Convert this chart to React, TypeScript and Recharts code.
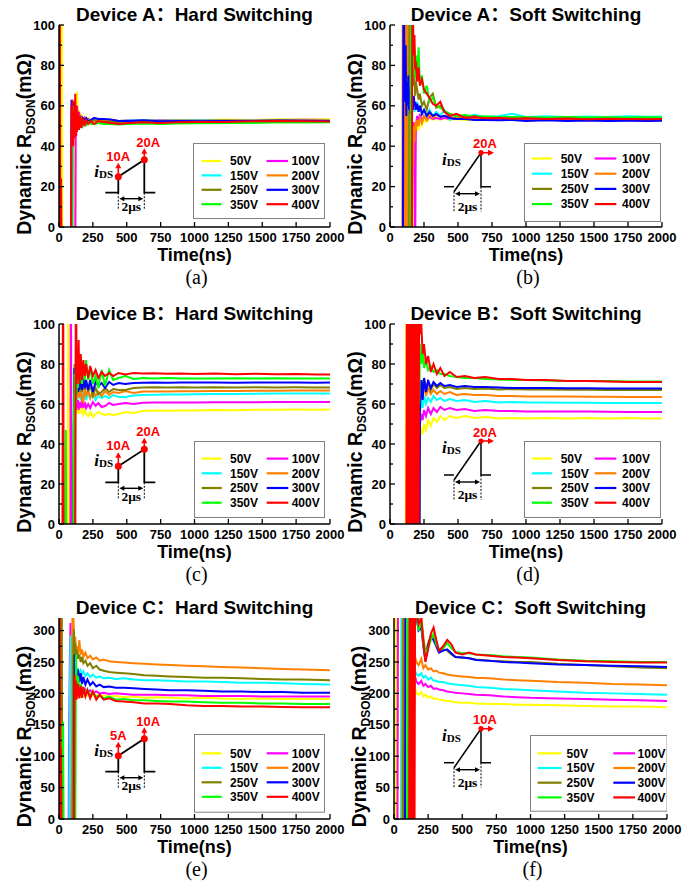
import React from "react";
import { LineChart, Line, XAxis, YAxis, Legend } from "recharts";

const SANS = '"Liberation Sans", Arial, "Noto Sans CJK SC", sans-serif';
const SERIF = '"Liberation Serif", "Times New Roman", serif';

const SERIES = ["50V", "100V", "150V", "200V", "250V", "300V", "350V", "400V"];
const COLORS = ["#FFFF00", "#FF00FF", "#00FFFF", "#FF8000", "#808000", "#0000FF", "#00FF00", "#FF0000"];

const X_TICKS = [0, 250, 500, 750, 1000, 1250, 1500, 1750, 2000];
const Y_TICKS_100 = [0, 10, 20, 30, 40, 50, 60, 70, 80, 90, 100];
const Y_LABELS_100 = [0, 20, 40, 60, 80, 100];
const Y_TICKS_320 = [0, 25, 50, 75, 100, 125, 150, 175, 200, 225, 250, 275, 300];
const Y_LABELS_320 = [0, 50, 100, 150, 200, 250, 300];

// ---------- Device A, hard switching ----------
const A_HARD_T = [0, 5, 10, 15, 20, 25, 30, 88, 92, 96, 100, 105, 110, 115, 120, 124, 128, 133, 140, 148, 156, 165, 175, 188, 200, 215, 235, 260, 290, 330, 380, 440, 520, 620, 740, 880, 1040, 1220, 1420, 1620, 1820, 2000];
const A_HARD_50V = [-20, -20, -20, -20, 150, -20, -20, -20, -20, -20, -20, -20, -20, -20, 50, 60, 55, 67, 55, 58, 52, 56, 51, 54, 52, 54, 53, 53.5, 53, 53.5, 53, 52.5, 52.8, 53, 52.8, 53, 53, 53.2, 53, 53.3, 53.2, 53.3];
const A_HARD_100V = [-20, -20, -20, -20, -20, -20, -20, -20, -20, -20, -20, -20, -20, -20, -20, 58, 45, 60, 50, 57, 51, 55, 52, 54, 52.5, 53.5, 52.5, 53, 52.5, 53, 52.8, 52.5, 52.8, 52.6, 52.8, 52.7, 52.9, 53, 52.8, 53, 53.1, 53];
const A_HARD_150V = [-20, -20, -20, -20, -20, -20, -20, -20, -20, -20, -20, 56, 48, 58, 50, 56, 51, 55, 52, 54, 52, 53.5, 52, 53.5, 52.5, 53, 53, 53.5, 52.8, 53, 52.7, 52.5, 52.7, 52.8, 52.6, 52.8, 52.9, 53, 52.8, 53, 52.9, 53];
const A_HARD_200V = [-20, -20, -20, -20, -20, -20, -20, -20, -20, -20, 57, 47, 60, 48, 57, 50, 56, 51, 55, 52, 54, 52, 53.5, 52, 53, 52, 53, 52.5, 53, 52.5, 52.8, 52.5, 52.3, 52.6, 52.5, 52.7, 52.6, 52.8, 52.7, 52.9, 52.8, 52.8];
const A_HARD_250V = [-20, -20, -20, -20, -20, -20, -20, -20, -20, 55, 50, 58, 49, 57, 51, 56, 52, 55, 51, 54, 52, 53.5, 51, 53, 51, 52, 52, 53, 52, 52.2, 52, 52, 52.2, 52, 52.2, 52.3, 52.4, 52.5, 52.5, 52.6, 52.5, 52.5];
const A_HARD_300V = [-20, -20, -20, -20, -20, -20, -20, -20, 63, 50, 58, 48, 62, 50, 58, 52, 56, 50, 55, 52, 55, 52, 54, 53, 54, 52.5, 53, 54, 53.5, 53.5, 53.2, 52.5, 52.5, 52.8, 52.3, 52.5, 52.3, 52.5, 52.5, 52.7, 52.6, 52.5];
const A_HARD_350V = [-20, -20, -20, -20, -20, -20, -20, -20, -20, 58, 48, 60, 47, 58, 50, 56, 49, 55, 50, 54, 51, 53, 50, 52, 50.5, 52, 51, 51, 51.5, 51, 51, 50.8, 51, 51.2, 51, 51.2, 51.3, 51.5, 51.5, 51.8, 51.7, 51.8];
const A_HARD_400V = [-20, 150, -20, 24, -20, -20, -20, -20, 60, 42, 63, 40, 57, 44, 66, 45, 60, 47, 57, 48, 55, 49, 54, 50, 53, 51, 52.5, 51, 52.5, 52, 51.5, 51, 51.5, 51.8, 51.5, 51.8, 52, 52, 52.3, 52.5, 52.4, 52.2];

// ---------- Device A, soft switching ----------
const A_SOFT_T = [0, 90, 95, 100, 105, 110, 115, 120, 125, 130, 135, 140, 145, 150, 155, 160, 165, 170, 175, 180, 185, 190, 200, 210, 220, 235, 250, 270, 290, 315, 340, 370, 400, 440, 490, 550, 620, 700, 800, 900, 1000, 1150, 1300, 1450, 1600, 1750, 1900, 2000];
const A_SOFT_50V = [-20, -20, -20, -20, -20, -20, -20, -20, -20, -20, -20, -20, -20, -20, 40, -20, 30, -20, 35, -20, 42, 45, 50, 48, 52, 50, 53, 52, 54, 53, 54, 53, 54, 53, 53.5, 53, 53.2, 53.5, 53, 53.3, 52.8, 53.2, 53, 53.2, 53.3, 53.2, 53.4, 53.3];
const A_SOFT_100V = [-20, -20, -20, -20, -20, -20, -20, -20, -20, -20, -20, -20, -20, -20, -20, -20, 45, 40, 52, 44, -20, 50, 55, 51, 56, 52, 55, 53, 54.5, 53.5, 54, 53.5, 54, 53.5, 53.5, 53.8, 53.5, 53.6, 53.4, 53.6, 53.5, 53.5, 53.4, 53.6, 53.5, 53.5, 53.4, 53.5];
const A_SOFT_150V = [-20, -20, -20, -20, -20, -20, -20, -20, -20, -20, 150, 70, 62, 58, 63, 56, 62, 58, 61, 57, 60, 58, 62, 57, 60, 56, 58, 55, 58, 55, 57, 55, 58, 53, 55, 54.5, 55.5, 54.5, 55, 56, 54.5, 54.8, 54.5, 54.7, 54.5, 54.8, 54.6, 54.7];
const A_SOFT_200V = [-20, -20, 150, -20, 150, -20, 150, -20, 150, -20, 150, -20, 150, 5, 35, 20, 45, 30, 50, 42, 52, 48, 53, 50, 54, 52, 55, 53, 56, 54, 55.5, 54.5, 55, 54.5, 54, 54.3, 54, 53.8, 54, 53.5, 53.8, 53.7, 53.8, 53.6, 53.8, 53.6, 53.7, 53.6];
const A_SOFT_250V = [-20, -20, -20, -20, -20, -20, -20, -20, -20, -20, -20, -20, 150, 100, 85, 95, 75, 82, 70, 75, 65, 72, 68, 63, 66, 60, 62, 58, 64, 66, 59, 60, 57, 56, 55, 54.5, 55, 54, 54.5, 54, 54.2, 54, 54.2, 54, 54.1, 54, 54.1, 54];
const A_SOFT_300V = [-20, -20, -20, 150, 80, 62, 90, 55, 72, 60, 75, 58, 68, 56, 66, 60, 64, 58, 65, 60, 62, 58, 61, 57, 60, 56, 58, 55, 57, 55, 56, 54.5, 55, 54, 53.5, 53.5, 53, 53, 52.8, 53, 52.5, 52.8, 52.5, 52.7, 52.5, 52.6, 52.5, 52.6];
const A_SOFT_350V = [-20, -20, -20, -20, -20, -20, -20, -20, -20, -20, -20, -20, -20, -20, 150, 100, 80, 95, 78, 88, 74, 85, 72, 89, 70, 75, 66, 70, 62, 64, 60, 59, 57.5, 56, 55, 55.5, 54.5, 54.8, 54.3, 54.5, 54.3, 54.2, 54.4, 54.2, 54.3, 54.2, 54.3, 54.2];
const A_SOFT_400V = [-20, -20, -20, -20, -20, -20, -20, -20, -20, -20, -20, -20, -20, -20, -20, -20, 150, 100, 85, 95, 78, 82, 72, 79, 70, 73, 68, 66, 64, 61, 60, 62, 57, 55, 56, 54, 54.5, 53.8, 54, 53.6, 53.8, 53.5, 53.7, 53.4, 53.6, 53.5, 53.4, 53.5];

// ---------- Device B, hard switching ----------
const B_HARD_T = [0, 25, 30, 35, 45, 50, 55, 64, 69, 74, 84, 88, 92, 100, 105, 110, 115, 120, 125, 130, 135, 140, 145, 150, 160, 170, 180, 190, 200, 215, 230, 250, 270, 290, 315, 340, 370, 400, 440, 490, 550, 620, 700, 800, 900, 1000, 1150, 1300, 1450, 1600, 1750, 1900, 2000];
const B_HARD_50V = [-20, -20, -20, -20, -20, -20, -20, -20, 150, -20, -20, -20, -20, -20, -20, -20, 52, 58, 55, 60, 56, 58, 55, 57, 56, 58, 55, 57, 55, 54, 56, 53.5, 55, 56, 55, 54.5, 55, 54.5, 55, 56, 55.5, 56.5, 56.7, 56.6, 56.8, 56.8, 57, 56.9, 57.1, 57.1, 57.2, 57.1, 57.3];
const B_HARD_100V = [-20, -20, -20, -20, -20, -20, -20, -20, -20, -20, -20, 150, -20, -20, -20, -20, 55, 62, 57, 63, 58, 62, 57, 61, 58, 62, 58, 61, 58, 60, 58, 61, 59, 60.5, 58.5, 59, 60.5, 59.5, 60, 60.5, 60, 60.6, 60.7, 60.7, 60.8, 60.8, 60.9, 60.9, 60.9, 61, 61, 61, 61];
const B_HARD_150V = [-20, -20, -20, -20, -20, -20, -20, -20, -20, -20, -20, -20, -20, -20, -20, 78, 55, 72, 60, 70, 62, 68, 63, 67, 62, 67, 63, 66, 62, 65, 63, 65, 62, 64, 63, 64, 63, 64.5, 63.5, 63.5, 64.2, 64.5, 64.6, 64.7, 64.8, 64.9, 65, 65, 65.1, 65.2, 65.2, 65.3, 65.3];
const B_HARD_200V = [-20, -20, -20, -20, -20, -20, -20, -20, -20, -20, -20, -20, -20, -20, -20, 55, 72, 58, 75, 62, 72, 64, 70, 63, 69, 62, 61, 68, 64, 67, 63, 67, 64, 66, 64, 66.5, 64.5, 66, 65.5, 66.5, 65.5, 66.2, 66.3, 66.3, 66.4, 66.4, 66.5, 66.5, 66.6, 66.6, 66.7, 66.7, 66.7];
const B_HARD_250V = [-20, -20, -20, -20, -20, -20, -20, -20, -20, -20, -20, -20, -20, -20, -20, 62, 80, 64, 78, 66, 76, 67, 74, 66, 73, 66, 72, 67, 71, 66, 70, 64, 68, 65, 66, 68, 66, 67.5, 67, 67, 68, 68.2, 68.4, 68.2, 68.4, 68.3, 68.4, 68.2, 68.4, 68.3, 68.4, 68.3, 68.3];
const B_HARD_300V = [-20, -20, -20, -20, -20, -20, -20, -20, -20, -20, -20, -20, -20, -20, -20, 50, 78, 62, 80, 65, 77, 66, 75, 67, 74, 67, 73, 68, 72, 67, 72, 66, 71, 69, 70.5, 68, 71, 69.5, 70.5, 70, 70.5, 70.6, 70.8, 70.6, 70.8, 70.7, 70.8, 70.6, 70.8, 70.7, 70.7, 70.6, 70.7];
const B_HARD_350V = [-20, -20, -20, -20, -20, 47, -20, -20, -20, -20, -20, -20, -20, -20, -20, 48, 75, 60, 88, 65, 82, 68, 80, 70, 84, 70, 80, 72, 82, 72, 78, 70, 74, 68, 77, 69, 77, 72, 73, 74, 72.5, 73, 72.7, 73, 72.7, 72.8, 72.7, 72.9, 72.7, 72.9, 72.7, 72.8, 72.8];
const B_HARD_400V = [-20, -20, 150, -20, -20, -20, -20, -20, -20, -20, -20, -20, -20, -20, -20, -20, -20, -20, 150, 70, 85, 72, 92, 70, 85, 72, 82, 74, 80, 73, 79, 74, 77, 73, 76, 74, 75.5, 74, 75.5, 74.8, 75.5, 75.2, 75.4, 75.1, 75.3, 75, 75.2, 74.9, 75.1, 74.9, 75, 74.8, 74.8];

// ---------- Device B, soft switching ----------
const B_SOFT_T = [0, 115, 120, 125, 130, 135, 140, 145, 150, 155, 160, 165, 170, 175, 180, 185, 190, 195, 200, 205, 210, 215, 220, 230, 240, 250, 265, 280, 300, 320, 345, 370, 400, 440, 490, 550, 620, 700, 800, 900, 1000, 1150, 1300, 1450, 1600, 1750, 1900, 2000];
const B_SOFT_50V = [-20, -20, 150, -20, -20, -20, -20, -20, -20, -20, -20, -20, -20, -20, -20, -20, -20, -20, -20, -20, -20, -20, 42, 48, 45, 50, 47, 52, 49, 53, 51, 54, 52, 54, 53, 54, 53, 53.5, 52.8, 53, 52.8, 53, 52.8, 53, 52.8, 53, 52.8, 52.8];
const B_SOFT_100V = [-20, -20, -20, -20, -20, -20, -20, -20, -20, -20, -20, -20, -20, -20, -20, -20, -20, -20, -20, -20, -20, -20, 50, 55, 52, 57, 54, 58, 55, 58, 56, 58.5, 57, 58, 57, 57.5, 56.5, 57, 56.5, 56.5, 56.3, 56.3, 56.2, 56.2, 56.1, 56, 56, 56];
const B_SOFT_150V = [-20, -20, -20, -20, -20, -20, -20, -20, -20, -20, -20, -20, -20, -20, -20, -20, -20, -20, -20, -20, -20, -20, 55, 62, 58, 64, 60, 63, 61, 64, 62, 63, 61.5, 62.5, 61.5, 62, 61, 61.5, 60.8, 61, 60.7, 60.7, 60.6, 60.6, 60.5, 60.5, 60.5, 60.5];
const B_SOFT_200V = [-20, -20, -20, -20, -20, -20, -20, -20, -20, -20, -20, -20, -20, -20, -20, -20, -20, -20, -20, -20, -20, -20, 60, 68, 63, 70, 64, 68, 65, 67, 65, 66.5, 65, 66, 64.5, 65, 64.5, 64.5, 64, 64, 63.8, 63.8, 63.7, 63.6, 63.6, 63.5, 63.5, 63.5];
const B_SOFT_250V = [-20, -20, -20, -20, -20, -20, -20, -20, -20, -20, -20, -20, -20, -20, -20, -20, -20, -20, -20, -20, -20, -20, 65, 72, 66, 73, 67, 71, 67, 70, 68, 69.5, 68, 68.5, 67.5, 68, 67.5, 67.8, 67.3, 67.5, 67.2, 67.2, 67.1, 67.1, 67, 67, 67, 67];
const B_SOFT_300V = [-20, -20, -20, -20, -20, -20, -20, -20, -20, -20, -20, -20, -20, -20, -20, -20, -20, -20, -20, -20, -20, -20, 58, 72, 62, 73, 66, 72, 68, 71, 69, 70.5, 69, 69.5, 68.5, 69, 68.5, 68.5, 68.2, 68, 68, 68, 67.9, 67.9, 67.8, 67.8, 67.8, 67.8];
const B_SOFT_350V = [-20, -20, -20, -20, -20, -20, -20, -20, -20, -20, -20, -20, -20, -20, -20, -20, -20, -20, 150, 42, 100, 60, 90, 80, 88, 78, 82, 77, 79, 76, 77, 75, 75, 74, 73.5, 73, 73, 72.5, 72.3, 72, 72, 71.8, 71.5, 71.5, 71.5, 71.3, 71.3, 71.3];
const B_SOFT_400V = [-20, -20, -20, 150, -20, 150, -20, 150, -20, 150, -20, 150, -20, 150, -20, 150, -20, 150, -20, 150, -20, 150, 95, 100, 85, 90, 80, 84, 76, 80, 75, 78, 74, 76, 73.5, 74, 73, 73.5, 72.5, 72.5, 72, 72, 71.5, 71.5, 71.2, 71, 71, 71];

// ---------- Device C, hard switching ----------
const C_HARD_T = [0, 5, 10, 15, 20, 25, 30, 35, 65, 70, 75, 80, 85, 90, 95, 100, 105, 110, 115, 120, 125, 130, 140, 150, 160, 170, 180, 195, 210, 230, 250, 275, 300, 330, 370, 420, 480, 550, 630, 720, 820, 940, 1070, 1200, 1350, 1500, 1650, 1800, 2000];
const C_HARD_50V = [-50, -50, 400, -50, -50, -50, -50, -50, -50, -50, -50, -50, -50, -50, -50, -50, -50, -50, 185, 205, 190, 205, 193, 203, 195, 200, 196, 200, 196, 199, 196, 198, 195, 197, 195, 196, 194, 195, 193, 194, 193, 192, 193, 192, 191, 192, 191, 191, 191];
const C_HARD_100V = [-50, -50, -50, -50, -50, -50, -50, -50, -50, -50, 150, 250, 312, -50, -50, -50, -50, 220, 205, 215, 205, 212, 203, 210, 203, 208, 202, 206, 201, 205, 200, 203, 200, 201, 199, 200, 199, 198, 198, 198, 197, 197, 196, 196, 196, 195, 195, 195, 195];
const C_HARD_150V = [-50, -50, -50, -50, -50, -50, -50, -50, -50, -50, -50, 200, 292, 150, -50, -50, 260, 240, 250, 232, 245, 230, 240, 228, 236, 230, 235, 228, 232, 226, 230, 225, 227, 224, 225, 223, 224, 222, 221, 221, 220, 219, 219, 218, 217, 217, 216, 215, 214];
const C_HARD_200V = [-50, -50, -50, -50, -50, -50, -50, -50, -50, -50, -50, -50, -50, -50, -50, 400, 330, 300, 270, 290, 262, 275, 262, 285, 262, 270, 258, 265, 256, 260, 254, 257, 252, 254, 251, 250, 249, 248, 247, 246, 245, 244, 243, 242, 241, 240, 239, 238, 237];
const C_HARD_250V = [-50, -50, -50, -50, 400, -50, -50, -50, -50, -50, -50, -50, -50, -50, -50, -50, 250, 302, 260, 280, 255, 270, 255, 262, 250, 258, 248, 252, 244, 248, 240, 244, 238, 236, 234, 233, 232, 231, 229, 228, 227, 226, 225, 225, 224, 223, 222, 222, 221];
const C_HARD_300V = [-50, -50, -50, -50, -50, -50, -50, -50, -50, -50, -50, -50, -50, -50, -50, -50, -50, -50, 262, 225, 245, 215, 238, 218, 232, 215, 226, 214, 222, 213, 218, 211, 214, 210, 211, 209, 209, 208, 207, 206, 205, 205, 204, 203, 203, 202, 202, 201, 201];
const C_HARD_350V = [-50, -50, -50, -50, -50, -50, 155, -50, -50, -50, -50, -50, -50, -50, -50, -50, -50, -50, -50, -50, 262, 215, 228, 205, 215, 200, 210, 198, 206, 196, 202, 194, 197, 192, 195, 190, 191, 189, 189, 188, 187, 187, 186, 185, 185, 184, 184, 183, 183];
const C_HARD_400V = [-50, 400, -50, 113, -50, -50, -50, -50, -50, -50, -50, -50, -50, -50, -50, -50, -50, -50, 230, 195, 220, 190, 215, 192, 212, 193, 210, 195, 205, 192, 203, 190, 198, 190, 192, 188, 187, 186, 184, 184, 183, 181, 180, 180, 179, 179, 178.5, 178, 178];

// ---------- Device C, soft switching ----------
const C_SOFT_T = [0, 5, 10, 15, 20, 25, 30, 35, 50, 55, 60, 65, 70, 75, 80, 85, 90, 95, 100, 105, 110, 115, 120, 125, 130, 135, 140, 145, 150, 155, 165, 180, 200, 215, 230, 250, 270, 290, 310, 330, 360, 390, 420, 450, 500, 550, 600, 700, 800, 900, 1000, 1200, 1400, 1600, 1800, 2000];
const C_SOFT_50V = [-50, -50, 400, -50, 400, 400, 400, 400, 400, 400, 400, 400, 400, 400, 400, 400, 400, 400, 400, 400, 400, 400, 400, 400, 400, 400, 400, 400, 212, 208, 200, 198, 202, 195, 198, 193, 195, 191, 192, 190, 189, 188, 187, 186, 185, 185, 184, 183, 183, 182, 182, 181, 180, 179, 179, 178];
const C_SOFT_100V = [-50, -50, -50, -50, -50, -50, 400, 400, 400, 400, 400, 400, 400, 400, 400, 400, 400, 400, 400, 400, 400, 400, 400, 400, 400, 400, 400, 400, 232, 226, 218, 215, 220, 212, 215, 210, 212, 207, 208, 206, 205, 203, 202, 201, 200, 199, 198, 197, 195, 194, 193, 192, 191, 190, 189, 188];
const C_SOFT_150V = [-50, -50, -50, -50, -50, -50, -50, -50, -50, 400, 400, 400, 400, 400, 400, 400, 400, 400, 400, 400, 400, 400, 400, 400, 400, 400, 400, 400, 240, 236, 230, 228, 232, 225, 228, 222, 225, 220, 220, 218, 218, 216, 215, 214, 213, 212, 210, 209, 207, 206, 205, 203, 201, 200, 199, 198];
const C_SOFT_200V = [-50, -50, -50, -50, -50, -50, -50, -50, -50, -50, -50, 400, -50, 400, 400, 400, 400, 400, 400, 400, 400, 400, 400, 400, 400, 400, 400, 400, 268, 258, 250, 245, 255, 240, 245, 238, 240, 235, 236, 233, 232, 230, 229, 228, 227, 226, 225, 224, 222, 221, 220, 218, 217, 215, 214, 213];
const C_SOFT_250V = [-50, -50, -50, -50, -50, -50, -50, -50, -50, -50, -50, -50, 400, 400, 400, 400, 400, 400, 400, 400, 400, 400, 400, 400, 400, 400, 400, 400, 400, 400, 330, 315, 320, 290, 262, 280, 292, 288, 278, 268, 270, 268, 262, 258, 257, 256, 254, 252, 251, 250, 250, 247, 245, 243, 241, 240];
const C_SOFT_300V = [-50, -50, -50, -50, -50, -50, -50, -50, -50, -50, -50, -50, -50, -50, -50, 400, 400, 400, 400, 400, 400, 400, 400, 400, 400, 400, 400, 400, 400, 400, 320, 300, 305, 275, 252, 275, 290, 285, 275, 265, 268, 270, 264, 258, 257, 256, 253, 252, 250, 249, 248, 246, 245, 244, 243, 242];
const C_SOFT_350V = [-50, -50, -50, -50, -50, -50, -50, -50, -50, -50, -50, -50, -50, -50, -50, -50, -50, -50, 400, -50, 400, 400, 400, 400, 400, 400, 400, 400, 400, 320, 330, 300, 315, 275, 265, 272, 285, 295, 278, 270, 272, 280, 272, 266, 264, 264, 262, 261, 259, 258, 257, 254, 252, 251, 250, 250];
const C_SOFT_400V = [-50, -50, -50, -50, -50, -50, -50, -50, -50, -50, -50, -50, -50, -50, -50, -50, -50, -50, -50, -50, -50, 400, -50, 400, -50, 400, -50, 400, -50, 400, 330, 310, 320, 280, 250, 270, 295, 305, 285, 268, 275, 285, 278, 265, 262, 265, 262, 260, 258, 257, 256, 253, 251, 250, 249, 249];

function buildRows(t: number[], series: number[][]) {
  return t.map((time, i) => {
    const row: any = { t: time };
    series.forEach((arr, k) => {
      row["s" + k] = arr[i];
    });
    return row;
  });
}

const XTick = (props: any) => {
  const { x, y, payload } = props;
  return (
    <g>
      <line x1={x} x2={x} y1={y} y2={y - 5} stroke="#000" strokeWidth={1.3} />
      <text x={x} y={y + 15} textAnchor="middle" fontSize={13} fontWeight="bold" fontFamily={SANS} fill="#000">
        {payload.value}
      </text>
    </g>
  );
};

const makeYTick = (labels: number[]) => (props: any) => {
  const { x, y, payload } = props;
  const major = labels.indexOf(payload.value) >= 0;
  return (
    <g>
      <line x1={x} x2={x + (major ? 5 : 3)} y1={y} y2={y} stroke="#000" strokeWidth={1.3} />
      {major ? (
        <text x={x - 4} y={y + 4.6} textAnchor="end" fontSize={13} fontWeight="bold" fontFamily={SANS} fill="#000">
          {payload.value}
        </text>
      ) : null}
    </g>
  );
};

function LegendBox({ lg }: any) {
  return (
    <svg width={lg.w} height={lg.h} style={{ display: "block" }}>
      <rect x={0.5} y={0.5} width={lg.w - 1} height={lg.h - 1} fill="#fff" stroke="#808080" strokeWidth={1} />
      {SERIES.map((s, k) => {
        const col = k % 2;
        const row = Math.floor(k / 2);
        const yy = lg.row0 + row * lg.gap;
        const c = col === 0 ? lg.c1 : lg.c2;
        return (
          <g key={s}>
            <line x1={c[0]} x2={c[1]} y1={yy} y2={yy} stroke={COLORS[k]} strokeWidth={2.2} />
            <text x={c[2]} y={yy + 4.3} fontSize={12} fontWeight="bold" fontFamily={SANS} fill="#000">
              {s}
            </text>
          </g>
        );
      })}
    </svg>
  );
}

function HardInset({ x0, y0, lo, hi }: any) {
  return (
    <g>
      <polyline
        points={`${x0 - 13},${y0} ${x0},${y0} ${x0},${y0 - 16} ${x0 + 26},${y0 - 33} ${x0 + 26},${y0} ${x0 + 37},${y0}`}
        fill="none"
        stroke="#000"
        strokeWidth={1.8}
      />
      <circle cx={x0} cy={y0 - 16} r={3.5} fill="#FF0000" />
      <circle cx={x0 + 26} cy={y0 - 33} r={3.5} fill="#FF0000" />
      <line x1={x0} y1={y0 - 19} x2={x0} y2={y0 - 25} stroke="#FF0000" strokeWidth={1.6} />
      <polygon points={`${x0 - 3},${y0 - 24.5} ${x0 + 3},${y0 - 24.5} ${x0},${y0 - 30}`} fill="#FF0000" />
      <line x1={x0 + 26} y1={y0 - 36} x2={x0 + 26} y2={y0 - 40} stroke="#FF0000" strokeWidth={1.6} />
      <polygon points={`${x0 + 23},${y0 - 39} ${x0 + 29},${y0 - 39} ${x0 + 26},${y0 - 44.5}`} fill="#FF0000" />
      <text x={x0} y={y0 - 32} textAnchor="middle" fontSize={13} fontWeight="bold" fontFamily={SANS} fill="#FF0000">
        {lo}
      </text>
      <text x={x0 + 30} y={y0 - 46} textAnchor="middle" fontSize={13} fontWeight="bold" fontFamily={SANS} fill="#FF0000">
        {hi}
      </text>
      <text x={x0 - 24} y={y0 - 16} fontFamily={SERIF} fontWeight="bold" fill="#000">
        <tspan fontStyle="italic" fontSize={17}>i</tspan>
        <tspan fontSize={11} dy={1}>DS</tspan>
      </text>
      <line x1={x0} y1={y0} x2={x0} y2={y0 + 17} stroke="#000" strokeWidth={1} strokeDasharray="2 1.5" />
      <line x1={x0 + 26} y1={y0} x2={x0 + 26} y2={y0 + 17} stroke="#000" strokeWidth={1} strokeDasharray="2 1.5" />
      <line x1={x0 + 4} y1={y0 + 6} x2={x0 + 22} y2={y0 + 6} stroke="#000" strokeWidth={1.4} />
      <polygon points={`${x0 + 1},${y0 + 6} ${x0 + 6},${y0 + 3.5} ${x0 + 6},${y0 + 8.5}`} fill="#000" />
      <polygon points={`${x0 + 25},${y0 + 6} ${x0 + 20},${y0 + 3.5} ${x0 + 20},${y0 + 8.5}`} fill="#000" />
      <text x={x0 + 13} y={y0 + 18.5} textAnchor="middle" fontSize={13.5} fontWeight="bold" fontFamily={SERIF} fill="#000">
        2μs
      </text>
    </g>
  );
}

function SoftInset({ x0, y0, hi }: any) {
  return (
    <g>
      <line x1={x0 - 10} y1={y0} x2={x0} y2={y0} stroke="#000" strokeWidth={1.5} />
      <polyline
        points={`${x0},${y0 + 5} ${x0 + 27},${y0 - 34} ${x0 + 27},${y0} ${x0 + 37},${y0}`}
        fill="none"
        stroke="#000"
        strokeWidth={1.5}
      />
      <circle cx={x0 + 27} cy={y0 - 34} r={2.6} fill="#FF0000" />
      <line x1={x0 + 29} y1={y0 - 34} x2={x0 + 35} y2={y0 - 34} stroke="#FF0000" strokeWidth={1.6} />
      <polygon points={`${x0 + 34},${y0 - 37} ${x0 + 34},${y0 - 31} ${x0 + 40},${y0 - 34}`} fill="#FF0000" />
      <text x={x0 + 31} y={y0 - 38.5} textAnchor="middle" fontSize={13} fontWeight="bold" fontFamily={SANS} fill="#FF0000">
        {hi}
      </text>
      <text x={x0 - 12} y={y0 - 21.7} fontFamily={SERIF} fontWeight="bold" fill="#000">
        <tspan fontStyle="italic" fontSize={17}>i</tspan>
        <tspan fontSize={11} dy={1}>DS</tspan>
      </text>
      <line x1={x0} y1={y0 + 5} x2={x0} y2={y0 + 25} stroke="#000" strokeWidth={1} strokeDasharray="2 1.5" />
      <line x1={x0 + 27} y1={y0} x2={x0 + 27} y2={y0 + 25} stroke="#000" strokeWidth={1} strokeDasharray="2 1.5" />
      <line x1={x0 + 4} y1={y0 + 7} x2={x0 + 23} y2={y0 + 7} stroke="#000" strokeWidth={1.4} />
      <polygon points={`${x0 + 1},${y0 + 7} ${x0 + 6},${y0 + 4.5} ${x0 + 6},${y0 + 9.5}`} fill="#000" />
      <polygon points={`${x0 + 26},${y0 + 7} ${x0 + 21},${y0 + 4.5} ${x0 + 21},${y0 + 9.5}`} fill="#000" />
      <text x={x0 + 13.5} y={y0 + 24} textAnchor="middle" fontSize={13.5} fontWeight="bold" fontFamily={SERIF} fill="#000">
        2μs
      </text>
    </g>
  );
}

const PANELS = [
  {
    id: "a", left: 0, top: 0, W: 345, H: 295, L: 59, R: 330, T: 25, B: 227,
    title: "Device A：Hard Switching", letter: "(a)",
    rows: buildRows(A_HARD_T, [A_HARD_50V, A_HARD_100V, A_HARD_150V, A_HARD_200V, A_HARD_250V, A_HARD_300V, A_HARD_350V, A_HARD_400V]),
    yMax: 100, yTicks: Y_TICKS_100, yLabels: Y_LABELS_100,
    legend: { x: 193, y: 143, w: 132, h: 76, row0: 18, gap: 14.4, c1: [8.5, 28.5, 37], c2: [73.5, 95, 98.5] },
    inset: { kind: "hard", x0: 118.3, y0: 192.7, lo: "10A", hi: "20A" },
  },
  {
    id: "b", left: 345, top: 0, W: 352, H: 295, L: 45, R: 317, T: 25, B: 227,
    title: "Device A：Soft Switching", letter: "(b)",
    rows: buildRows(A_SOFT_T, [A_SOFT_50V, A_SOFT_100V, A_SOFT_150V, A_SOFT_200V, A_SOFT_250V, A_SOFT_300V, A_SOFT_350V, A_SOFT_400V]),
    yMax: 100, yTicks: Y_TICKS_100, yLabels: Y_LABELS_100,
    legend: { x: 179, y: 143, w: 137, h: 79, row0: 15.5, gap: 15.2, c1: [8, 28, 36.7], c2: [70.7, 92.3, 98] },
    inset: { kind: "soft", x0: 109, y0: 186.7, hi: "20A" },
  },
  {
    id: "c", left: 0, top: 295, W: 345, H: 295, L: 59, R: 330, T: 29, B: 229,
    title: "Device B：Hard Switching", letter: "(c)",
    rows: buildRows(B_HARD_T, [B_HARD_50V, B_HARD_100V, B_HARD_150V, B_HARD_200V, B_HARD_250V, B_HARD_300V, B_HARD_350V, B_HARD_400V]),
    yMax: 100, yTicks: Y_TICKS_100, yLabels: Y_LABELS_100,
    legend: { x: 194, y: 145.7, w: 131, h: 77, row0: 17.6, gap: 14.7, c1: [7.7, 27.7, 36], c2: [72.7, 94.3, 97.7] },
    inset: { kind: "hard", x0: 118.3, y0: 187.3, lo: "10A", hi: "20A" },
  },
  {
    id: "d", left: 345, top: 295, W: 352, H: 295, L: 45, R: 317, T: 29, B: 229,
    title: "Device B：Soft Switching", letter: "(d)",
    rows: buildRows(B_SOFT_T, [B_SOFT_50V, B_SOFT_100V, B_SOFT_150V, B_SOFT_200V, B_SOFT_250V, B_SOFT_300V, B_SOFT_350V, B_SOFT_400V]),
    yMax: 100, yTicks: Y_TICKS_100, yLabels: Y_LABELS_100,
    legend: { x: 179, y: 145.7, w: 137, h: 77, row0: 17.6, gap: 14.7, c1: [8, 28, 36.7], c2: [70.7, 92.3, 98] },
    inset: { kind: "soft", x0: 109, y0: 180, hi: "20A" },
  },
  {
    id: "e", left: 0, top: 590, W: 345, H: 299, L: 59, R: 330, T: 28, B: 229,
    title: "Device C：Hard Switching", letter: "(e)",
    rows: buildRows(C_HARD_T, [C_HARD_50V, C_HARD_100V, C_HARD_150V, C_HARD_200V, C_HARD_250V, C_HARD_300V, C_HARD_350V, C_HARD_400V]),
    yMax: 320, yTicks: Y_TICKS_320, yLabels: Y_LABELS_320,
    legend: { x: 194, y: 144, w: 131, h: 78.7, row0: 19.3, gap: 14.5, c1: [7.7, 27.7, 36], c2: [72.7, 94.3, 97.7] },
    inset: { kind: "hard", x0: 118.3, y0: 181.7, lo: "5A", hi: "10A" },
  },
  {
    id: "f", left: 345, top: 590, W: 352, H: 299, L: 49, R: 322, T: 28, B: 229,
    title: "Device C：Soft Switching", letter: "(f)",
    rows: buildRows(C_SOFT_T, [C_SOFT_50V, C_SOFT_100V, C_SOFT_150V, C_SOFT_200V, C_SOFT_250V, C_SOFT_300V, C_SOFT_350V, C_SOFT_400V]),
    yMax: 320, yTicks: Y_TICKS_320, yLabels: Y_LABELS_320,
    legend: { x: 184.7, y: 145, w: 137.6, h: 76.7, row0: 18.3, gap: 14.7, c1: [7.6, 31.6, 36.6], c2: [83.3, 105, 107.6] },
    inset: { kind: "soft", x0: 109, y0: 172.7, hi: "10A" },
  },
];

const AX = { stroke: "#000", strokeWidth: 1.5 };

function Panel({ p }: any) {
  const cx = (p.L + p.R) / 2;
  const cy = (p.T + p.B) / 2 + 18;
  const lg = p.legend;
  return (
    <div style={{ position: "absolute", left: p.left, top: p.top, width: p.W, height: p.H }}>
      <LineChart width={p.W} height={p.H} data={p.rows} margin={{ top: p.T, right: p.W - p.R, bottom: 0, left: 0 }}>
        <XAxis
          dataKey="t"
          type="number"
          domain={[0, 2000]}
          ticks={X_TICKS}
          interval={0}
          height={p.H - p.B}
          tickLine={false}
          tickSize={0}
          tickMargin={0}
          tick={XTick}
          axisLine={AX}
          allowDataOverflow
        />
        <XAxis xAxisId="top" orientation="top" dataKey="t" type="number" domain={[0, 2000]} height={0} tick={false} tickLine={false} axisLine={AX} />
        <YAxis
          type="number"
          domain={[0, p.yMax]}
          ticks={p.yTicks}
          interval={0}
          width={p.L}
          tickLine={false}
          tickSize={0}
          tickMargin={0}
          tick={makeYTick(p.yLabels)}
          axisLine={AX}
          allowDataOverflow
        />
        <YAxis yAxisId="right" orientation="right" type="number" domain={[0, p.yMax]} width={0} tick={false} tickLine={false} axisLine={AX} />
        {SERIES.map((s, k) => (
          <Line
            key={s}
            type="linear"
            dataKey={"s" + k}
            name={s}
            stroke={COLORS[k]}
            strokeWidth={2}
            dot={false}
            activeDot={false}
            isAnimationActive={false}
          />
        ))}
        <Legend
          layout="vertical"
          align="center"
          verticalAlign="middle"
          wrapperStyle={{ left: lg.x, top: lg.y, width: lg.w, height: lg.h, margin: 0, padding: 0 }}
          content={() => <LegendBox lg={lg} />}
        />
      </LineChart>
      <svg width={p.W} height={p.H} style={{ position: "absolute", left: 0, top: 0, pointerEvents: "none" }}>
        <text x={cx} y={p.T - 4} textAnchor="middle" fontSize={19} fontWeight="bold" fontFamily={SANS} fill="#000">
          {p.title}
        </text>
        <text x={cx} y={p.B + 34} textAnchor="middle" fontSize={18} fontWeight="bold" fontFamily={SANS} fill="#000">
          Time(ns)
        </text>
        <text x={cx + 2} y={p.B + 57} textAnchor="middle" fontSize={20} fontFamily={SERIF} fill="#000">
          {p.letter}
        </text>
        <text
          transform={`translate(${p.L - 28}, ${cy}) rotate(-90)`}
          textAnchor="middle"
          fontSize={19.5}
          fontWeight="bold"
          fontFamily={SANS}
          fill="#000"
        >
          Dynamic R
          <tspan fontSize={12} dy={4}>DSON</tspan>
          <tspan dy={-4}>(mΩ)</tspan>
        </text>
        {p.inset.kind === "hard" ? (
          <HardInset x0={p.inset.x0} y0={p.inset.y0} lo={p.inset.lo} hi={p.inset.hi} />
        ) : (
          <SoftInset x0={p.inset.x0} y0={p.inset.y0} hi={p.inset.hi} />
        )}
      </svg>
    </div>
  );
}

export default function App() {
  return (
    <div style={{ position: "absolute", left: 0, top: 0, width: 697, height: 889, background: "#fff", overflow: "hidden" }}>
      {PANELS.map((p) => (
        <Panel key={p.id} p={p} />
      ))}
    </div>
  );
}
